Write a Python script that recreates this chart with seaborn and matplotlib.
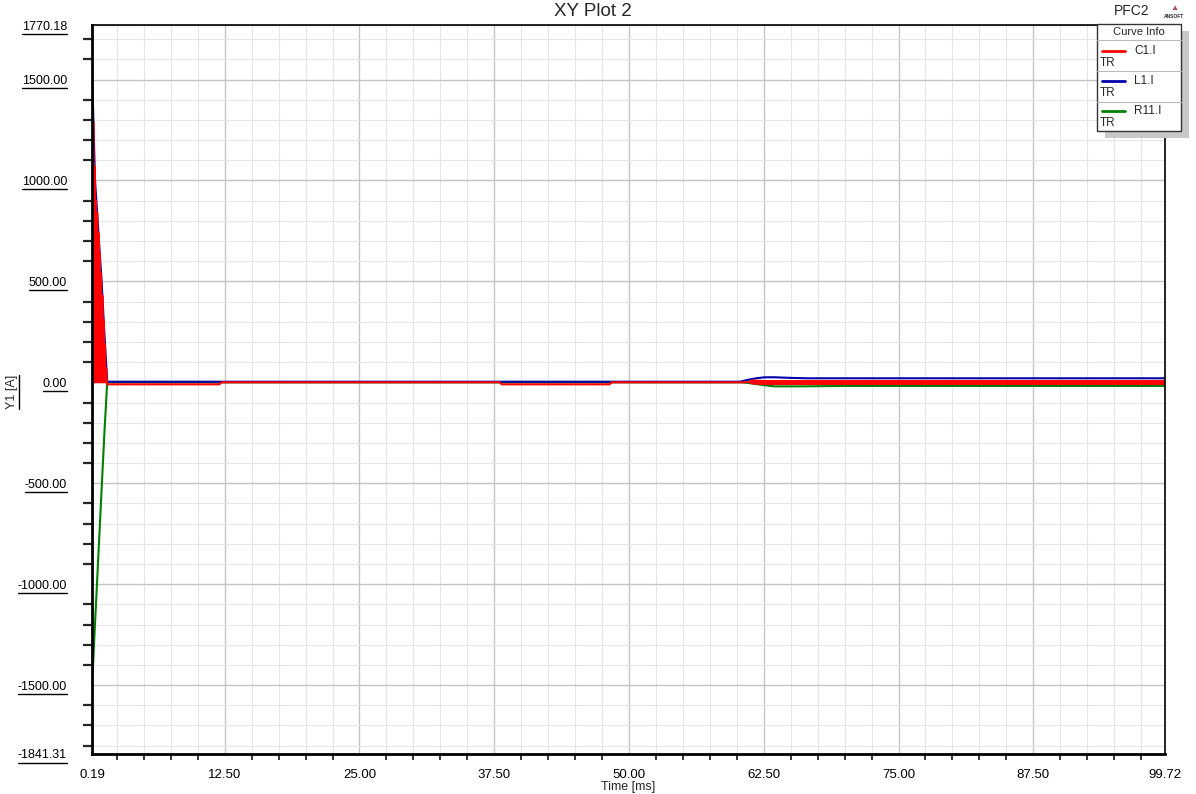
import numpy as np
import matplotlib
matplotlib.use('Agg')
import matplotlib.pyplot as plt
from matplotlib.ticker import FixedLocator, NullFormatter
from matplotlib.patches import Rectangle
from matplotlib.lines import Line2D
import seaborn as sns

# ---- data ----
# C1.I : fast ringing at switch-on, then a small offset, then a thick band after ~61 ms
c1_time = [0.19, 0.25, 0.31, 0.37, 0.43, 0.49, 0.55, 0.61, 0.67, 0.73, 0.79, 0.85,
           0.91, 0.97, 1.03, 1.09, 1.15, 1.21, 1.27, 1.33, 1.39, 1.45, 1.51, 1.57,
           1.60, 12.0, 12.2, 38.0, 38.2, 48.2, 48.4, 60.5, 61.4]
c1_vals = [1510, 0, 1290, 0, 1070, 0, 900, 0, 840, 0, 740, 0,
           640, 0, 540, 0, 430, 0, 310, 0, 190, 0, 70, 0,
           -10, -10, 0, 0, -10, -10, 0, 0, 2]
c1_band_time = [61.4, 62.5, 70.0, 99.72]
c1_band_vals = [2, -1, -1, -1]

# L1.I
l1_time = [0.19, 0.33, 0.47, 0.78, 1.08, 1.33, 1.60, 12.5, 60.3, 61.0, 61.8, 62.6,
           63.5, 65.0, 66.5, 70.0, 99.72]
l1_vals = [1555, 1270, 1000, 745, 500, 250, 3, 3, 3, 12, 20, 25,
           25, 22, 20, 20, 20]

# R11.I
r11_time = [0.19, 0.42, 0.65, 0.88, 1.11, 1.34, 1.60, 60.5, 61.5, 62.5, 63.5, 66.0,
            70.0, 99.72]
r11_vals = [-1510, -1250, -1000, -750, -500, -250, 0, 0, -6, -14, -20, -20,
            -18, -18]

x_major = [0.19, 12.50, 25.00, 37.50, 50.00, 62.50, 75.00, 87.50, 99.72]
y_major = [-1841.31, -1500.00, -1000.00, -500.00, 0.00, 500.00, 1000.00, 1500.00, 1770.18]
curve_names = ['C1.I', 'L1.I', 'R11.I']
curve_colors = ['#ff0000', '#0000aa', '#008000']

# ---- style ----
sns.set_theme(style='white')
plt.rcParams['font.family'] = ['Liberation Sans', 'DejaVu Sans']

W, H = 1196, 794
fig = plt.figure(figsize=(W / 100, H / 100), dpi=100)
ax = fig.add_axes([92 / W, 1 - 754 / H, (1165 - 92) / W, (754 - 25) / H])

def fx(px):
    return px / W

def fy(py):
    return 1 - py / H

sns.lineplot(x=r11_time, y=r11_vals, ax=ax, color=curve_colors[2], lw=1.5,
             estimator=None, sort=False)
sns.lineplot(x=l1_time, y=l1_vals, ax=ax, color=curve_colors[1], lw=1.5,
             estimator=None, sort=False)
sns.lineplot(x=c1_time, y=c1_vals, ax=ax, color=curve_colors[0], lw=1.5,
             estimator=None, sort=False)
sns.lineplot(x=c1_band_time, y=c1_band_vals, ax=ax, color=curve_colors[0], lw=3.6,
             estimator=None, sort=False)

ax.set_xlim(x_major[0], x_major[-1])
ax.set_ylim(y_major[0], y_major[-1])

ax.xaxis.set_major_locator(FixedLocator(x_major))
ax.set_xticklabels(['{:.2f}'.format(v) for v in x_major])
x_minor = [v for v in np.arange(2.5, 99.7, 2.5) if v % 12.5 != 0]
ax.xaxis.set_minor_locator(FixedLocator(x_minor))
ax.xaxis.set_minor_formatter(NullFormatter())

ax.yaxis.set_major_locator(FixedLocator(y_major))
ax.set_yticklabels(['{:.2f}'.format(v) for v in y_major])
y_minor = [v for v in range(-1800, 1800, 100) if v % 500 != 0]
ax.yaxis.set_minor_locator(FixedLocator(y_minor))
ax.yaxis.set_minor_formatter(NullFormatter())

ax.tick_params(axis='y', which='major', length=13, width=1.6, direction='out',
               pad=5, labelsize=9, colors='black')
ax.tick_params(axis='y', which='minor', length=6.5, width=1.6, direction='out', left=True)
ax.tick_params(axis='x', which='major', length=6, width=1.3, direction='out',
               pad=5, labelsize=9.5, colors='black')
ax.tick_params(axis='x', which='minor', length=4.5, width=1.3, direction='out', bottom=True)

ax.grid(which='major', color='#c4c4c4', lw=1.0)
ax.grid(which='minor', color='#e6e6e6', lw=0.8)
ax.set_axisbelow(True)

for side in ['left', 'bottom']:
    ax.spines[side].set_color('black')
    ax.spines[side].set_linewidth(2)
for side in ['top', 'right']:
    ax.spines[side].set_color('black')
    ax.spines[side].set_linewidth(1.2)

fig.text(fx(628), fy(787), 'Time [ms]', fontsize=9, ha='center', va='center')
ylab = fig.text(fx(12), fy(392), 'Y1 [A]', fontsize=9, rotation=90,
                ha='center', va='center')

# title and header
fig.text(fx(593), fy(11), 'XY Plot 2', fontsize=13.5, ha='center', va='center')
fig.text(fx(1132), fy(11), 'PFC2', fontsize=10, ha='center', va='center')
fig.text(fx(1174), fy(8), '\u25B2', fontsize=6, color='#b05050', ha='center', va='center')
fig.text(fx(1174), fy(16), 'ANSOFT', fontsize=3.5, weight='bold', ha='center', va='center')

# legend box ("Curve Info") with shadow
bx0, by0, bx1, by1 = 1097, 24, 1181, 131
fig.patches.append(Rectangle((fx(bx0 + 8), fy(by1 + 7)), (bx1 - bx0) / W, (by1 - by0) / H,
                             transform=fig.transFigure, facecolor='#c8c8c8',
                             edgecolor='none', zorder=5))
fig.patches.append(Rectangle((fx(bx0), fy(by1)), (bx1 - bx0) / W, (by1 - by0) / H,
                             transform=fig.transFigure, facecolor='white',
                             edgecolor='#333333', lw=1, zorder=6))
fig.text(fx((bx0 + bx1) / 2), fy(32), 'Curve Info', fontsize=8, ha='center',
         va='center', zorder=7)
sep_y = [39.5, 71, 101.5]
for sy in sep_y:
    fig.lines.append(Line2D([fx(bx0), fx(bx1)], [fy(sy), fy(sy)], transform=fig.transFigure,
                            color='#bbbbbb', lw=0.8, zorder=7))
for i, (name, col) in enumerate(zip(curve_names, curve_colors)):
    ly = 50.7 + i * 30
    fig.lines.append(Line2D([fx(1102), fx(1125)], [fy(ly), fy(ly)], transform=fig.transFigure,
                            color=col, lw=2, zorder=7))
    fig.text(fx(1134), fy(ly), name, fontsize=8.5, ha='left', va='center', zorder=7)
    fig.text(fx(1100), fy(ly + 12.5), 'TR', fontsize=8.5, ha='left', va='center', zorder=7)

# underline the y tick labels and the y label (mathtext has no \underline)
fig.canvas.draw()
rend = fig.canvas.get_renderer()
for lab in ax.get_yticklabels():
    bb = lab.get_window_extent(rend)
    yb = bb.y0 - 1
    fig.lines.append(Line2D([bb.x0 / W, bb.x1 / W], [yb / H, yb / H],
                            transform=fig.transFigure, color='black', lw=1))
bb = ylab.get_window_extent(rend)
xb = bb.x1 + 1
fig.lines.append(Line2D([xb / W, xb / W], [bb.y0 / H, bb.y1 / H],
                        transform=fig.transFigure, color='black', lw=1))

fig.savefig('out.png', dpi=100)
